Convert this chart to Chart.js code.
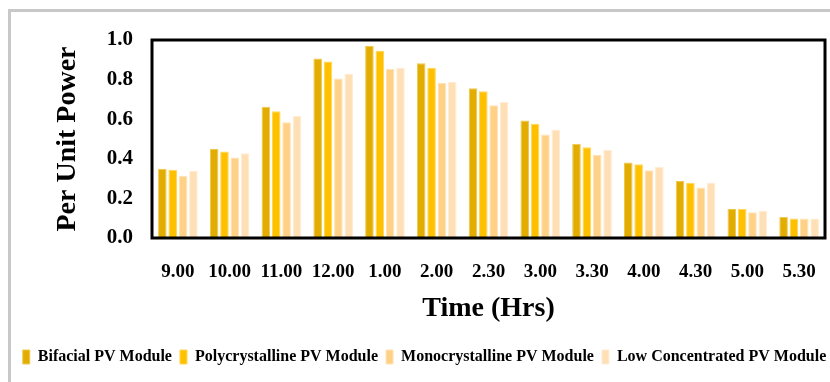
<!DOCTYPE html>
<html>
<head>
<meta charset="utf-8">
<script src="https://cdn.jsdelivr.net/npm/chart.js@4"></script>
<style>
  html, body { margin: 0; padding: 0; background: #fff; }
  #wrap { position: relative; width: 830px; height: 382px; overflow: hidden; }
  #frame { position: absolute; left: 8px; top: 9px; width: 900px; height: 400px;
           border-left: 3px solid #c8c8c8; border-top: 3px solid #c8c8c8; pointer-events: none; }
  canvas { position: absolute; left: 0; top: 0; }
</style>
</head>
<body>
<div id="wrap">
  <canvas id="c" width="830" height="382"></canvas>
  <div id="frame"></div>
</div>
<script>
const categories = ['9.00','10.00','11.00','12.00','1.00','2.00','2.30','3.00','3.30','4.00','4.30','5.00','5.30'];
const seriesNames = ['Bifacial PV Module','Polycrystalline PV Module','Monocrystalline PV Module','Low Concentrated PV Module'];
const bifacial        = [0.35, 0.45, 0.663, 0.907, 0.97, 0.883, 0.756, 0.594, 0.476, 0.381, 0.288, 0.146, 0.107];
const polycrystalline = [0.345, 0.437, 0.64, 0.892, 0.946, 0.86, 0.741, 0.577, 0.458, 0.372, 0.279, 0.146, 0.098];
const monocrystalline = [0.315, 0.406, 0.585, 0.806, 0.853, 0.783, 0.67, 0.523, 0.421, 0.342, 0.255, 0.13, 0.098];
const lowConcentrated = [0.338, 0.428, 0.616, 0.829, 0.86, 0.788, 0.687, 0.547, 0.445, 0.359, 0.279, 0.137, 0.098];
const yTicks = [0.0, 0.2, 0.4, 0.6, 0.8, 1.0];

const fills = ['#e2ac00', '#ffc000', '#ffd186', '#ffe0b6'];
const edges = ['#edc84d', '#ffd655', '#ffe2b4', '#ffecd2'];
const serif = '"Liberation Serif", "Times New Roman", serif';

const boxPlugin = {
  id: 'plotBox',
  afterLayout(chart) {
    if (chart.legend) { chart.legend.left += 12; chart.legend.right += 12; }
  },
  afterDatasetsDraw(chart) {
    const {ctx, chartArea: a} = chart;
    ctx.save();
    ctx.strokeStyle = '#000';
    ctx.lineWidth = 3;
    ctx.strokeRect(a.left, a.top, a.right - a.left, a.bottom - a.top);
    ctx.restore();
  }
};

const data = {
  labels: categories,
  datasets: [bifacial, polycrystalline, monocrystalline, lowConcentrated].map((vals, i) => ({
    label: seriesNames[i],
    data: vals,
    backgroundColor: fills[i],
    borderColor: edges[i],
    borderWidth: 1,
    categoryPercentage: 0.8,
    barPercentage: 0.83
  }))
};

new Chart(document.getElementById('c'), {
  type: 'bar',
  data,
  plugins: [boxPlugin],
  options: {
    responsive: false,
    animation: false,
    layout: { padding: { top: 40, right: 5, left: 0, bottom: 7 } },
    plugins: {
      tooltip: { enabled: false },
      legend: {
        position: 'bottom',
        labels: {
          boxWidth: 7,
          boxHeight: 14,
          padding: 8,
          color: '#000',
          font: { family: serif, size: 16, weight: 'bold' }
        }
      }
    },
    scales: {
      x: {
        grid: { display: false, drawTicks: false },
        border: { display: false },
        ticks: { color: '#000', padding: 23, maxRotation: 0, autoSkip: false,
                 font: { family: serif, size: 19, weight: 'bold' } },
        title: { display: true, text: 'Time (Hrs)', color: '#000',
                 padding: { top: 0, bottom: 15 },
                 font: { family: serif, size: 28, weight: 'bold' } },
        afterFit(s) { s.height = 103; s.paddingLeft = 0; s.paddingRight = 0; }
      },
      y: {
        min: 0, max: 1,
        grid: { display: false, drawTicks: false },
        border: { display: false },
        afterBuildTicks(s) { s.ticks = yTicks.map(v => ({ value: v })); },
        ticks: { color: '#000', padding: 19,
                 callback: v => Number(v).toFixed(1),
                 font: { family: serif, size: 21, weight: 'bold' } },
        title: { display: true, text: 'Per Unit Power', color: '#000',
                 padding: { top: 51, bottom: 0 },
                 font: { family: serif, size: 28, weight: 'bold' } },
        afterFit(s) { s.width = 152; s.paddingTop = 0; s.paddingBottom = 0; }
      }
    }
  }
});
</script>
</body>
</html>
